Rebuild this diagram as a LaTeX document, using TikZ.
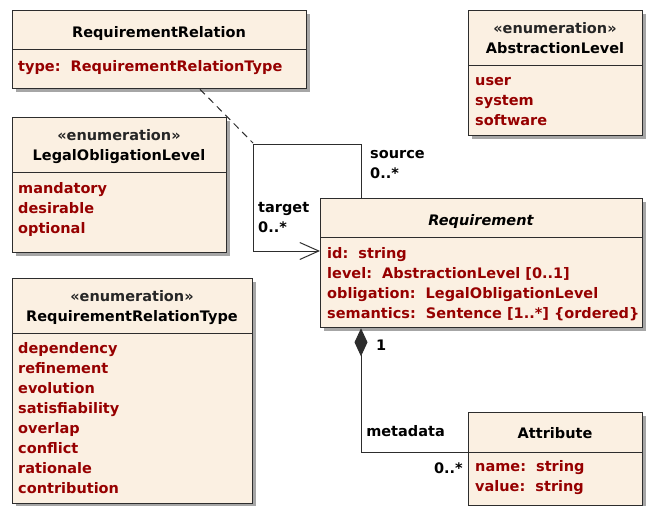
\documentclass[tikz,border=0pt]{standalone}
\usepackage{fontspec}
\setmainfont{DejaVu Sans}
\usetikzlibrary{arrows.meta,shadows}
\definecolor{boxfill}{RGB}{251,240,226}
\definecolor{attrred}{RGB}{150,0,0}
\definecolor{edge}{RGB}{45,45,45}
\tikzset{
  x=1pt,y=-1pt,
  classbox/.style={draw=edge,line width=1.3pt,fill=boxfill,anchor=north west,inner sep=0pt,
    general shadow={fill=black!35,shadow xshift=3pt,shadow yshift=-3pt}},
  hdr/.style={inner sep=0pt,anchor=base,font=\fontsize{14.5}{18}\selectfont\bfseries,text=black},
  stereo/.style={inner sep=0pt,anchor=base,font=\fontsize{14.5}{18}\selectfont\bfseries,text=black!85},
  attr/.style={inner sep=0pt,anchor=base west,font=\fontsize{14.5}{18}\selectfont\bfseries,text=attrred},
  lbl/.style={inner sep=0pt,anchor=base west,font=\fontsize{14.5}{18}\selectfont\bfseries,text=black},
  divider/.style={draw=edge,line width=1pt},
  conn/.style={draw=edge,line width=1pt},
}
\begin{document}
\begin{tikzpicture}
\useasboundingbox (0,0) rectangle (648,506);
% RequirementRelation
\node[classbox,minimum width=294,minimum height=78] (rr) at (12,10) {};
\draw[divider] (12,49) -- (306,49);
\node[hdr] (rrh) at (159,37) {RequirementRelation};
\node[attr] (rra) at (18,71.5) {type:\ \ RequirementRelationType};
% AbstractionLevel
\node[classbox,minimum width=174,minimum height=125] (al) at (468,10) {};
\draw[divider] (468,65) -- (642,65);
\node[stereo] (als) at (555,33) {«enumeration»};
\node[hdr] (alh) at (555,53) {AbstractionLevel};
\foreach \t [count=\i] in {user,system,software}
  \node[attr] (ala\i) at (475,85+20*\i-20) {\t};
% LegalObligationLevel
\node[classbox,minimum width=214,minimum height=135] (lo) at (12,117) {};
\draw[divider] (12,172) -- (226,172);
\node[stereo] (los) at (119,140) {«enumeration»};
\node[hdr] (loh) at (119,160.5) {LegalObligationLevel};
\foreach \t [count=\i] in {mandatory,desirable,optional}
  \node[attr] (loa\i) at (18,193+20*\i-20) {\t};
% RequirementRelationType
\node[classbox,minimum width=240,minimum height=225] (rt) at (12,278) {};
\draw[divider] (12,333) -- (252,333);
\node[stereo] (rts) at (132,301.5) {«enumeration»};
\node[hdr] (rth) at (132,321.5) {RequirementRelationType};
\foreach \t [count=\i] in {dependency,refinement,evolution,satisfiability,overlap,conflict,rationale,contribution}
  \node[attr] (rta\i) at (18,353.3+20*\i-20) {\t};
% Requirement
\node[classbox,minimum width=322,minimum height=129] (req) at (320,198) {};
\draw[divider] (320,237) -- (642,237);
\node[hdr,font=\fontsize{14.5}{18}\selectfont\bfseries\itshape] (reqh) at (481,225) {Requirement};
\foreach \t [count=\i] in {id:\ \ string,level:\ \ AbstractionLevel [0..1],obligation:\ \ LegalObligationLevel,semantics:\ \ Sentence [1..*] \{ordered\}}
  \node[attr] (reqa\i) at (327,258.3+20*\i-20) {\t};
% Attribute
\node[classbox,minimum width=174,minimum height=93] (at) at (468,412) {};
\draw[divider] (468,452) -- (642,452);
\node[hdr] (ath) at (555,438) {Attribute};
\foreach \t [count=\i] in {name:\ \ string,value:\ \ string}
  \node[attr] (ata\i) at (475,471.7+20*\i-20) {\t};
% association
\coordinate (corner) at (253,143);
\coordinate (srcturn) at (361,144);
\draw[conn,dash pattern=on 7pt off 5pt] (rr.south -| 200,0) -- (corner);
\draw[conn] (corner |- srcturn) -- (srcturn) -- (srcturn |- req.north);
\draw[conn,-{Straight Barb[length=19pt,width=17pt,line width=1pt]}] (corner |- srcturn) |- (req.west |- 0,251);
\node[lbl] (srcl) at (370,158) {source};
\node[lbl] (srcm) at (370,178) {0..*};
\node[lbl] (tgtl) at (258,212) {target};
\node[lbl] (tgtm) at (258,232) {0..*};
% composition
\coordinate (compturn) at (361,452);
\draw[conn,{Diamond[length=28pt,width=13pt]}-] (req.south -| compturn) -- (compturn) -- (at.west |- compturn);
\node[lbl] (one) at (376,350.5) {1};
\node[lbl] (meta) at (361,436.7) {\ metadata};
\node[lbl,anchor=base east] (metam) at (463,473.3) {0..*};
\end{tikzpicture}
\end{document}
